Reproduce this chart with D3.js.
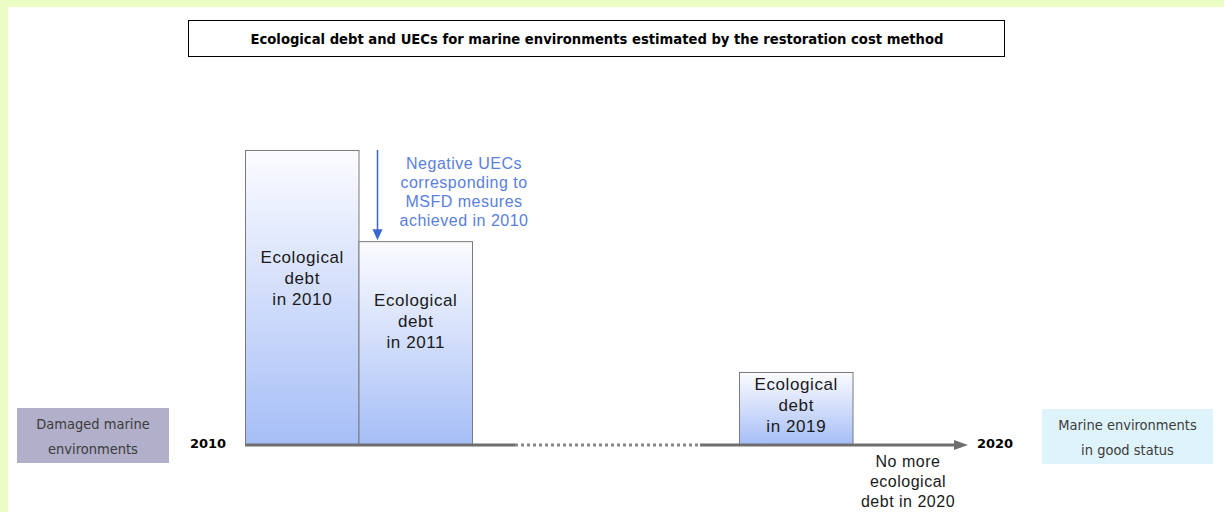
<!DOCTYPE html>
<html lang="en">
<head>
<meta charset="UTF-8">
<title>Ecological debt and UECs</title>
<script src="https://d3js.org/d3.v7.min.js"></script>
<style>
  html, body { margin: 0; padding: 0; background: #ebfcc5; }
  svg { display: block; }
</style>
</head>
<body>
<script>
// data
var years = [2010, 2011, 2019];
var debt = [100, 69, 24.5];           // relative size of the ecological debt
var barLabels = [
  ['Ecological', 'debt', 'in 2010'],
  ['Ecological', 'debt', 'in 2011'],
  ['Ecological', 'debt', 'in 2019']
];
var startYear = 2010, endYear = 2020;
var titleText = 'Ecological debt and UECs for marine environments estimated by the restoration cost method';
var noteLines = ['Negative UECs', 'corresponding to', 'MSFD mesures', 'achieved in 2010'];
var endLines = ['No more', 'ecological', 'debt in 2020'];
var leftBox = ['Damaged marine', 'environments'];
var rightBox = ['Marine environments', 'in good status'];

var W = 1224, H = 512;
var svg = d3.select('body').append('svg').attr('width', W).attr('height', H);

// white panel on the green page
svg.append('rect').attr('x', 8).attr('y', 7).attr('width', W - 8).attr('height', H - 7).attr('fill', '#ffffff');

var defs = svg.append('defs');
var grad = defs.append('linearGradient').attr('id', 'barGrad')
  .attr('x1', 0).attr('y1', 0).attr('x2', 0).attr('y2', 1);
grad.append('stop').attr('offset', '0%').attr('stop-color', '#fcfcff');
grad.append('stop').attr('offset', '100%').attr('stop-color', '#a6bef7');

// x: schematic timeline, compressed between 2012 and 2019
var x = d3.scaleLinear()
  .domain([2010, 2012, 2019, 2021])
  .range([245, 472, 739, 966]);
var y = d3.scaleLinear().domain([0, 100]).range([444, 150]);

// title box
svg.append('rect').attr('x', 188.5).attr('y', 20.5).attr('width', 816).attr('height', 36)
  .attr('fill', '#fff').attr('stroke', '#000').attr('stroke-width', 1);
svg.append('text').attr('x', 597).attr('y', 43.5).attr('text-anchor', 'middle')
  .style('font-family', '"DejaVu Sans Condensed", "DejaVu Sans", sans-serif')
  .style('font-weight', 'bold').style('font-size', '13.5px')
  .attr('textLength', 693).attr('lengthAdjust', 'spacingAndGlyphs')
  .text(titleText);

// bars
var bars = svg.append('g');
bars.selectAll('rect').data(years).enter().append('rect')
  .attr('x', function(d){ return x(d) + 0.5; })
  .attr('y', function(d, i){ return y(debt[i]) + 0.5; })
  .attr('width', function(d){ return x(d + 1) - x(d); })
  .attr('height', function(d, i){ return y(0) - y(debt[i]); })
  .attr('fill', 'url(#barGrad)')
  .attr('stroke', '#7a7a7a').attr('stroke-width', 1);

// labels inside bars (first baseline below bar top)
var labelOffset = [113, 65, 18];
years.forEach(function(d, i){
  var t = bars.append('text').attr('text-anchor', 'middle')
    .style('font-family', '"Liberation Sans", Arial, sans-serif')
    .style('font-size', '17px').style('letter-spacing', '0.6px').attr('fill', '#1a1a1a');
  barLabels[i].forEach(function(line, j){
    t.append('tspan').attr('x', (x(d) + x(d + 1)) / 2 + 0.5)
      .attr('y', y(debt[i]) + labelOffset[i] + j * 21)
      .text(line);
  });
});

// axis
var axisY = 445;
var axis = svg.append('g').attr('stroke', '#6e6e6e').attr('stroke-width', 3);
axis.append('line').attr('x1', x(startYear)).attr('x2', x(2012) + 43).attr('y1', axisY).attr('y2', axisY);
axis.append('line').attr('x1', x(2012) + 43).attr('x2', x(2019) - 39).attr('y1', axisY).attr('y2', axisY)
  .attr('stroke-dasharray', '3,3').attr('stroke', '#888');
axis.append('line').attr('x1', x(2019) - 39).attr('x2', x(endYear + 1) - 10).attr('y1', axisY).attr('y2', axisY);
svg.append('path')
  .attr('d', 'M' + (x(endYear + 1) + 2) + ',' + axisY + 'l-14,-5l0,10z')
  .attr('fill', '#6e6e6e');

// year labels
svg.append('text').attr('x', 208).attr('y', 448).attr('text-anchor', 'middle')
  .style('font-family', '"DejaVu Sans", sans-serif').style('font-weight', 'bold').style('font-size', '13px')
  .text(startYear);
svg.append('text').attr('x', 995).attr('y', 448).attr('text-anchor', 'middle')
  .style('font-family', '"DejaVu Sans", sans-serif').style('font-weight', 'bold').style('font-size', '13px')
  .text(endYear);

// blue arrow + note
var blue = '#3a66cf';
var ax = x(2011) + 19;
svg.append('line').attr('x1', ax).attr('x2', ax).attr('y1', y(debt[0])).attr('y2', y(debt[1]) - 10)
  .attr('stroke', blue).attr('stroke-width', 1.5);
svg.append('path').attr('d', 'M' + ax + ',' + (y(debt[1]) - 1) + 'l-5,-11l10,0z').attr('fill', blue);
var note = svg.append('text').attr('text-anchor', 'middle')
  .style('font-family', '"Liberation Sans", Arial, sans-serif')
  .style('font-size', '16px').style('letter-spacing', '0.5px').attr('fill', '#5a80e0');
noteLines.forEach(function(line, j){
  note.append('tspan').attr('x', 464).attr('y', 169 + j * 19).text(line);
});

// end note
var endNote = svg.append('text').attr('text-anchor', 'middle')
  .style('font-family', '"Liberation Sans", Arial, sans-serif')
  .style('font-size', '16px').style('letter-spacing', '0.5px').attr('fill', '#1a1a1a');
endLines.forEach(function(line, j){
  endNote.append('tspan').attr('x', 908).attr('y', 467 + j * 20).text(line);
});

// side boxes
function sideBox(x0, y0, w, h, fill, lines){
  svg.append('rect').attr('x', x0).attr('y', y0).attr('width', w).attr('height', h).attr('fill', fill);
  var t = svg.append('text').attr('text-anchor', 'middle')
    .style('font-family', '"DejaVu Sans Condensed", "DejaVu Sans", sans-serif')
    .style('font-size', '14.5px').attr('fill', '#3c3c3c');
  lines.forEach(function(line, j){
    t.append('tspan').attr('x', x0 + w / 2).attr('y', y0 + 21 + j * 25).text(line);
  });
}
sideBox(17, 408, 152, 55, '#b1afc9', leftBox);
sideBox(1042, 409, 171, 55, '#dff3fb', rightBox);
</script>
</body>
</html>
